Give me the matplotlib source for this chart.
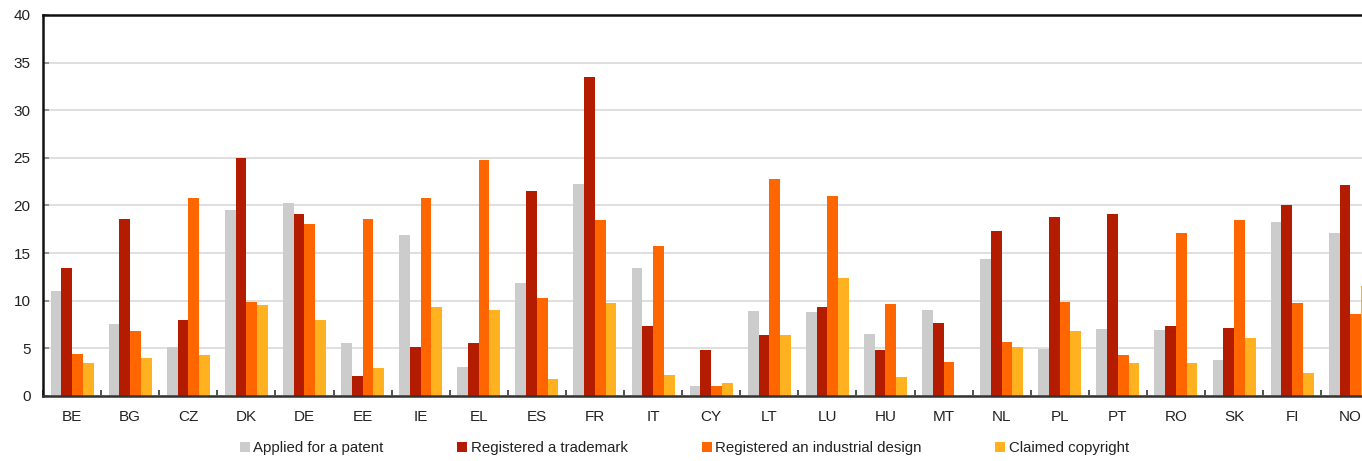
import matplotlib
matplotlib.use("Agg")
import matplotlib.pyplot as plt
import numpy as np
from matplotlib.ticker import FixedLocator

plt.rcParams['font.family'] = ['Liberation Sans', 'DejaVu Sans']

countries = ["BE", "BG", "CZ", "DK", "DE", "EE", "IE", "EL", "ES", "FR", "IT", "CY",
             "LT", "LU", "HU", "MT", "NL", "PL", "PT", "RO", "SK", "FI", "NO"]

patent = [11.0, 7.5, 5.1, 19.5, 20.2, 5.5, 16.9, 3.0, 11.9, 22.3, 13.4, 1.0,
          8.9, 8.8, 6.5, 9.0, 14.4, 4.9, 7.0, 6.9, 3.8, 18.3, 17.1]
trademark = [13.4, 18.6, 8.0, 25.0, 19.1, 2.1, 5.1, 5.5, 21.5, 33.5, 7.3, 4.8,
             6.4, 9.3, 4.8, 7.6, 17.3, 18.8, 19.1, 7.3, 7.1, 20.0, 22.1]
design = [4.4, 6.8, 20.8, 9.9, 18.0, 18.6, 20.8, 24.8, 10.3, 18.5, 15.7, 1.0,
          22.8, 21.0, 9.6, 3.6, 5.7, 9.9, 4.3, 17.1, 18.5, 9.7, 8.6]
copyright_ = [3.4, 4.0, 4.3, 9.5, 8.0, 2.9, 9.3, 9.0, 1.8, 9.7, 2.2, 1.3,
              6.4, 12.4, 2.0, 0.0, 5.1, 6.8, 3.4, 3.4, 6.1, 2.4, 11.5]

series = [
    ("Applied for a patent", patent, "#CCCCCC"),
    ("Registered a trademark", trademark, "#B41C00"),
    ("Registered an industrial design", design, "#FF6600"),
    ("Claimed copyright", copyright_, "#FFB11F"),
]

fig = plt.figure(figsize=(13.62, 4.61), dpi=100)
ax = fig.add_axes([43 / 1362, 65.2 / 461, 1 - 43 / 1362, (395.8 - 15) / 461])

x = np.arange(len(countries))
w = 0.185
offsets = (np.arange(4) - 1.5) * w
for (label, vals, color), off in zip(series, offsets):
    ax.bar(x + off, vals, width=w, color=color, label=label, zorder=2, linewidth=0)

ax.set_xlim(-0.5, (1362 - 43) / 58.1 - 0.5)
ax.set_ylim(0, 40)
ax.set_yticks(np.arange(0, 41, 5))
ax.yaxis.grid(True, color="#D9D9D9", linewidth=1.2, zorder=0)
ax.set_axisbelow(True)

ax.set_xticks(x)
ax.set_xticklabels(countries)
ax.xaxis.set_minor_locator(FixedLocator(np.arange(-0.5, len(countries), 1.0)))
ax.tick_params(axis="x", which="major", length=0, pad=10, labelsize=11, labelcolor="#222222")
ax.tick_params(axis="x", which="minor", direction="in", length=4, width=1.2, color="#333333")
ax.tick_params(axis="y", direction="in", length=4, width=1.2, color="#888888",
               pad=9, labelsize=11, labelcolor="#222222")

for side in ("left", "top"):
    ax.spines[side].set_linewidth(1.8)
    ax.spines[side].set_color("#111111")
ax.spines["bottom"].set_linewidth(1.8)
ax.spines["bottom"].set_color("#333333")
ax.spines["right"].set_visible(False)

fig.legend(loc="center", bbox_to_anchor=(684.5 / 1362, 1 - 448 / 461), ncol=4,
           frameon=False, fontsize=10.8, handlelength=0.67, handleheight=0.67,
           handletextpad=0.25, columnspacing=4.9, labelcolor="#222222")

fig.savefig("out.png", dpi=100)
